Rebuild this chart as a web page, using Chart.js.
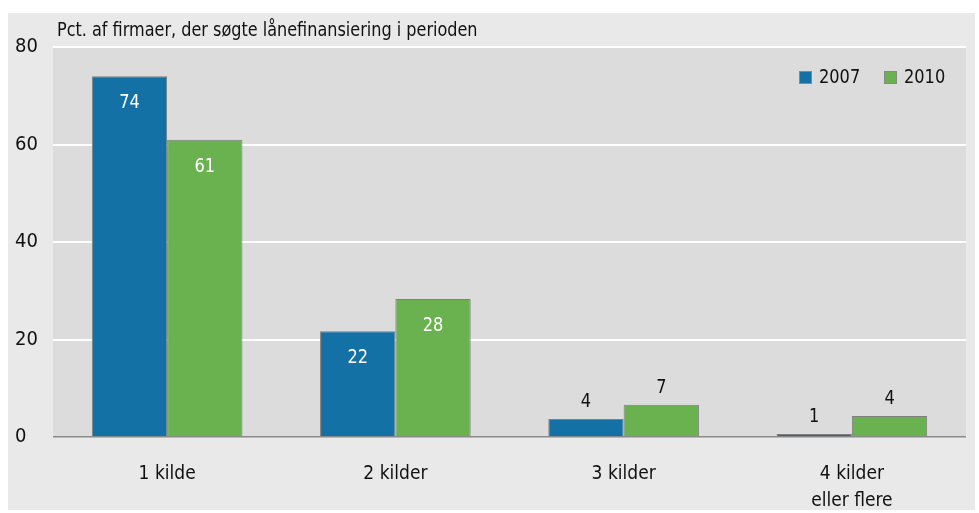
<!DOCTYPE html>
<html>
<head>
<meta charset="utf-8">
<script src="https://cdn.jsdelivr.net/npm/chart.js@4.4.1/dist/chart.umd.min.js"></script>
<style>
  html, body { margin: 0; padding: 0; background: #ffffff; }
  #wrap { width: 979px; height: 513px; position: relative; }
</style>
</head>
<body>
<div id="wrap"><canvas id="chart" width="979" height="513"></canvas></div>
<script>
// data
const categories = ['1 kilde', '2 kilder', '3 kilder', ['4 kilder', 'eller flere']];
const values2007 = [74, 21.7, 3.7, 0.6];
const values2010 = [61, 28.3, 6.6, 4.3];
const seriesNames = ['2007', '2010'];
const yTicks = [0, 20, 40, 60, 80];
const yTitle = 'Pct. af firmaer, der søgte lånefinansiering i perioden';

const FONT = '"DejaVu Sans Condensed", "Liberation Sans Narrow", sans-serif';
const BLUE = '#1471a6';
const GREEN = '#6ab24f';

// text a bit narrower than the condensed font gives
function narrowText(ctx, txt, x, y, sx) {
  ctx.save();
  ctx.translate(x, y);
  ctx.scale(sx, 1);
  ctx.fillText(txt, 0, 0);
  ctx.restore();
}

// outer panel, plot background and title
const backdrop = {
  id: 'backdrop',
  beforeDraw(chart) {
    const { ctx, chartArea } = chart;
    ctx.save();
    ctx.fillStyle = '#e9e9e9';
    ctx.fillRect(8, 13, 967, 497);
    ctx.fillStyle = '#dcdcdc';
    ctx.fillRect(chartArea.left, chartArea.top, chartArea.right - chartArea.left, chartArea.bottom - chartArea.top);
    ctx.fillStyle = '#111';
    ctx.font = '19px ' + FONT;
    ctx.textBaseline = 'middle';
    narrowText(ctx, yTitle, 57, 31, 0.94);
    ctx.restore();
  }
};

// value labels: white inside tall bars, black above short ones
const barLabels = {
  id: 'barLabels',
  afterDatasetsDraw(chart) {
    const { ctx } = chart;
    ctx.save();
    ctx.font = '20px ' + FONT;
    ctx.textAlign = 'center';
    ctx.textBaseline = 'middle';
    chart.data.datasets.forEach((ds, i) => {
      chart.getDatasetMeta(i).data.forEach((bar, j) => {
        const v = ds.data[j];
        const txt = String(Math.round(v));
        if (v > 10) {
          ctx.fillStyle = '#ffffff';
          narrowText(ctx, txt, bar.x, bar.y + 27, 0.9);
        } else {
          ctx.fillStyle = '#111';
          narrowText(ctx, txt, bar.x, bar.y - 17, 0.9);
        }
      });
    });
    ctx.restore();
  }
};

// legend in the top right corner of the plot
const cornerLegend = {
  id: 'cornerLegend',
  afterDraw(chart) {
    const { ctx } = chart;
    const items = [[799, BLUE, seriesNames[0]], [884, GREEN, seriesNames[1]]];
    ctx.save();
    ctx.font = '20px ' + FONT;
    ctx.textBaseline = 'middle';
    items.forEach(([x, col, name]) => {
      ctx.fillStyle = col;
      ctx.fillRect(x, 71, 13, 13);
      ctx.strokeStyle = '#888';
      ctx.lineWidth = 1;
      ctx.strokeRect(x + 0.5, 71.5, 12, 12);
      ctx.fillStyle = '#111';
      narrowText(ctx, name, x + 20, 78, 0.9);
    });
    ctx.restore();
  }
};

new Chart(document.getElementById('chart'), {
  type: 'bar',
  data: {
    labels: categories,
    datasets: [
      { label: seriesNames[0], data: values2007, backgroundColor: BLUE, borderColor: '#7f7f7f', borderWidth: 1 },
      { label: seriesNames[1], data: values2010, backgroundColor: GREEN, borderColor: '#7f7f7f', borderWidth: 1 }
    ]
  },
  options: {
    responsive: false,
    animation: false,
    layout: { padding: { left: 15, right: 13, top: 47, bottom: 0 } },
    datasets: { bar: { barPercentage: 1, categoryPercentage: 0.66 } },
    plugins: { legend: { display: false }, tooltip: { enabled: false } },
    scales: {
      x: {
        grid: { display: false },
        border: { display: false },
        ticks: { color: '#111', font: { family: FONT, size: 19, lineHeight: 1.4 }, padding: 16, maxRotation: 0 },
        afterFit(s) { s.height = 76; }
      },
      y: {
        min: 0, max: 80,
        afterBuildTicks(s) { s.ticks = yTicks.map(v => ({ value: v })); },
        grid: {
          drawTicks: false,
          color: c => c.tick.value === 0 ? '#8a8a8a' : '#ffffff',
          lineWidth: c => c.tick.value === 0 ? 1.5 : 2
        },
        border: { display: false },
        ticks: { color: '#111', font: { family: FONT, size: 20 }, crossAlign: 'far', padding: 0 },
        afterFit(s) { s.width = 38; }
      }
    }
  },
  plugins: [backdrop, barLabels, cornerLegend]
});
</script>
</body>
</html>
